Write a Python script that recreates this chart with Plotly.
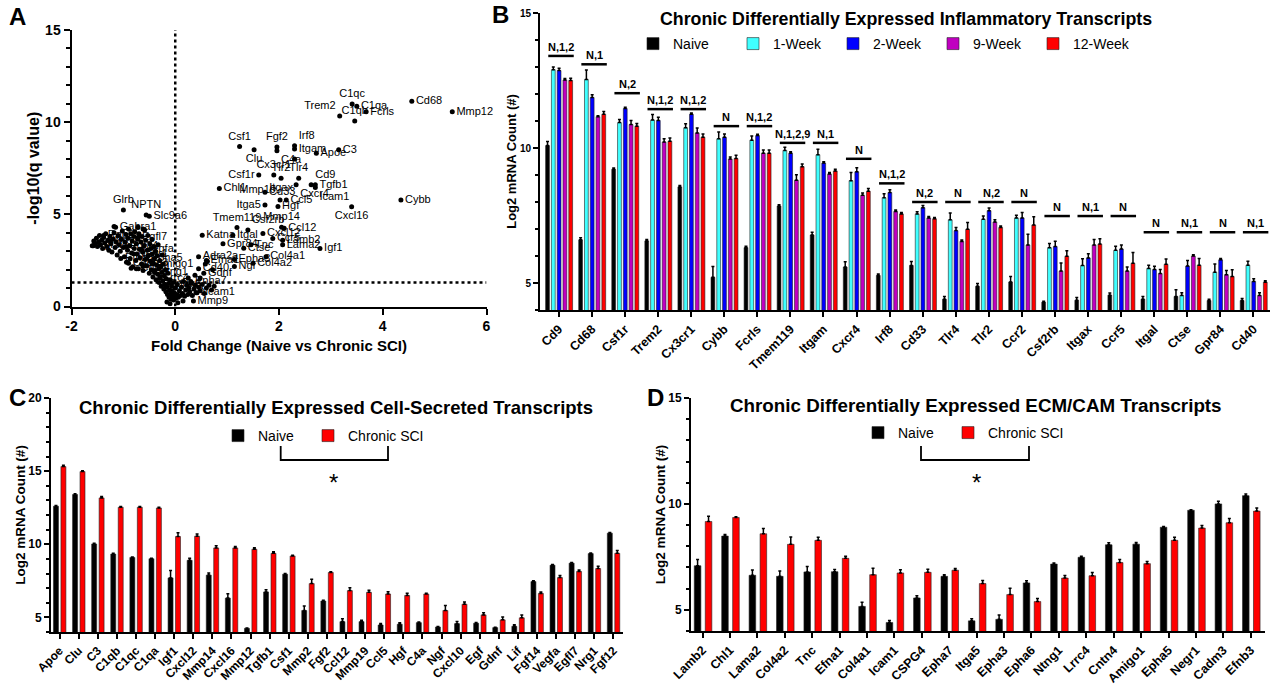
import plotly.graph_objects as go

FONT = "Liberation Sans, Arial, Helvetica, sans-serif"

# ---------------- Panel A : volcano plot ----------------
lab_genes = ["C1qc", "C1qa", "Trem2", "C1qb", "Fcrls", "Cd68", "Mmp12", "Csf1", "Clu", "Fgf2",
             "C4a", "Irf8", "Itgam", "Tlr2", "Apoe", "C3", "Csf1r", "Cx3cr1", "Tlr4", "Cd9",
             "Itgax", "Tgfb1", "Cxcr4", "Icam1", "Chl1", "Cd33", "Mmp19", "Ccl5", "Itga5", "Hgf",
             "Cybb", "Cxcl16", "Glrb", "NPTN", "Slc9a6", "Tmem119", "Csf2rb", "Mmp14", "Ccl12", "Cxcl12",
             "Katna", "Itgal", "Ccr5", "Gpr84", "Tnc", "Ctse", "Lamb2", "Lama2", "Igf1", "Col4a1",
             "Epha3", "Col4a2", "Ngf", "Adra2a", "Efna1", "Cd40", "Gdnf", "Epha7", "Ncam1", "Mmp9",
             "Rab3a", "Gabra1", "Fgf12", "Egfl7", "Nrg1", "Fgf14", "Vegfa", "Negr1", "Cadm3", "Efnb3",
             "Epha5", "Amigo1", "Cntn4", "Ntng1", "Lrrc4", "Epha6"]
lab_x = [3.41, 3.50, 3.17, 3.46, 3.68, 4.56, 5.34, 1.24, 1.52, 1.96,
         1.96, 2.30, 2.30, 2.30, 2.72, 3.15, 1.61, 1.90, 2.38, 2.62,
         2.04, 2.70, 2.33, 2.70, 0.85, 1.73, 2.02, 2.14, 1.73, 1.98,
         4.35, 3.40, -1.00, -0.56, -0.50, 1.19, 1.40, 2.05, 2.10, 1.69,
         0.52, 1.11, 1.88, 0.92, 1.46, 1.32, 2.07, 2.07, 2.79, 1.75,
         1.14, 1.50, 1.14, 0.45, 0.60, 0.45, 0.55, 0.30, 0.40, 0.35,
         -1.38, -1.15, -1.58, -0.72, -1.25, -0.95, -0.65, -0.80, -0.90, -1.05,
         -0.55, -0.45, -0.75, -0.40, -0.30, -0.20]
lab_y = [10.99, 10.87, 10.33, 10.07, 10.56, 11.14, 10.56, 8.68, 8.50, 8.65,
         8.45, 8.72, 8.55, 8.00, 8.32, 8.50, 7.13, 7.13, 6.96, 6.60,
         6.96, 6.60, 6.60, 6.45, 6.40, 6.20, 5.78, 5.78, 5.50, 5.42,
         5.78, 5.41, 5.24, 4.96, 4.90, 4.28, 4.15, 4.30, 4.25, 3.96,
         3.87, 3.87, 3.69, 3.40, 3.35, 3.16, 3.60, 3.35, 3.14, 2.70,
         2.55, 2.35, 2.17, 2.70, 2.50, 2.05, 1.80, 1.35, 0.75, 0.30,
         3.85, 4.30, 3.30, 3.75, 3.55, 3.25, 3.10, 2.85, 2.35, 2.60,
         2.60, 2.30, 2.05, 1.85, 1.55, 1.20]
lab_pos = ["top center", "middle right", "top left", "top center", "middle right", "middle right",
           "middle right", "top center", "bottom center", "top center", "bottom right", "top right",
           "middle right", "bottom left", "middle right", "middle right", "middle left", "top center",
           "top center", "top right", "bottom center", "middle right", "bottom right", "bottom right",
           "middle right", "middle right", "top left", "middle right", "middle left", "middle right",
           "middle right", "bottom center", "top center", "top center", "middle right", "top center",
           "top right", "top center", "middle right", "middle right", "middle right", "middle right",
           "middle right", "middle right", "middle right", "middle right", "middle right", "middle right",
           "middle right", "middle right", "middle right", "middle right", "middle right", "middle right",
           "middle right", "middle right", "middle right", "middle right", "middle right", "middle right",
           "middle right", "middle right", "middle right", "middle right", "middle right", "middle right",
           "middle right", "middle right", "middle right", "middle right", "middle right", "middle right",
           "middle right", "middle right", "middle right", "middle right"]

cluster_x = [-1.60, -1.57, -1.55, -1.52, -1.50, -1.48, -1.46, -1.44, -1.42, -1.40,
             -1.38, -1.36, -1.34, -1.32, -1.30, -1.28, -1.26, -1.24, -1.22, -1.20,
             -1.18, -1.16, -1.14, -1.12, -1.10, -1.08, -1.06, -1.04, -1.02, -1.00,
             -0.98, -0.97, -0.95, -0.94, -0.92, -0.91, -0.90, -0.88, -0.87, -0.86,
             -0.84, -0.83, -0.82, -0.80, -0.79, -0.78, -0.76, -0.75, -0.74, -0.72,
             -0.71, -0.70, -0.69, -0.68, -0.66, -0.65, -0.64, -0.63, -0.62, -0.60,
             -0.59, -0.58, -0.57, -0.55, -0.54, -0.53, -0.52, -0.50, -0.49, -0.48,
             -0.47, -0.46, -0.45, -0.44, -0.43, -0.42, -0.41, -0.40, -0.39, -0.38,
             -0.37, -0.36, -0.35, -0.34, -0.33, -0.32, -0.31, -0.30, -0.29, -0.28,
             -0.27, -0.26, -0.25, -0.24, -0.23, -0.22, -0.21, -0.20, -0.19, -0.18,
             -0.17, -0.16, -0.15, -0.14, -0.13, -0.12, -0.11, -0.10, -0.09, -0.08,
             -0.07, -0.06, -0.05, -0.04, -0.03, -0.02, 0.00, 0.01, 0.03, 0.04,
             0.06, 0.08, 0.10, 0.12, 0.14, 0.16, 0.18, 0.20, 0.22, 0.24,
             0.26, 0.28, 0.30, 0.33, 0.36, 0.39, 0.42, 0.45, 0.48, 0.52,
             0.56, 0.60, 0.65, 0.70, 0.75, -0.16, -0.10, 0.05, 0.15, 0.62,
             0.58, 0.72, 0.48, 0.38, 0.25, -0.72, -0.62, -1.18, -0.85, -0.62]
cluster_y = [3.30, 3.55, 3.40, 3.70, 3.25, 3.50, 3.85, 3.35, 3.60, 3.15,
             3.75, 3.45, 3.95, 3.25, 3.60, 3.05, 3.80, 3.40, 2.95, 3.65,
             4.00, 3.20, 3.50, 2.80, 3.85, 3.35, 3.00, 3.65, 4.10, 3.20,
             2.70, 3.50, 3.90, 2.40, 3.05, 3.70, 4.20, 3.30, 2.60, 3.95,
             2.90, 3.55, 2.15, 3.80, 3.15, 4.05, 2.50, 3.40, 2.85, 3.65,
             2.05, 3.95, 3.10, 2.65, 3.50, 2.30, 3.80, 2.95, 1.95, 3.30,
             4.15, 2.55, 3.60, 2.20, 3.05, 3.85, 2.75, 1.80, 3.40, 2.45,
             3.15, 2.00, 3.65, 2.85, 1.60, 2.35, 3.25, 2.60, 1.95, 3.00,
             1.45, 2.25, 2.75, 1.75, 3.35, 2.05, 1.30, 2.50, 1.60, 2.15,
             1.10, 1.85, 2.80, 1.40, 2.30, 0.95, 1.65, 1.20, 2.00, 0.80,
             1.50, 1.05, 0.65, 1.80, 1.25, 0.50, 0.90, 1.45, 0.70, 0.40,
             1.10, 0.85, 0.55, 1.30, 0.35, 0.75, 1.00, 0.45, 0.65, 1.20,
             0.50, 0.85, 0.60, 1.05, 0.70, 1.35, 0.55, 0.90, 1.15, 0.65,
             1.00, 0.80, 1.25, 0.60, 0.95, 1.15, 0.75, 1.05, 0.85, 1.20,
             0.70, 1.00, 1.15, 0.90, 1.10, 0.25, 0.15, 0.20, 0.30, 2.45,
             2.30, 2.00, 1.55, 1.70, 1.55, 4.30, 4.20, 4.34, 2.08, 2.20]
q_threshold = 1.3

# ---------------- Panel B : inflammatory transcripts ----------------
genes_b = ["Cd9", "Cd68", "Csf1r", "Trem2", "Cx3cr1", "Cybb", "Fcrls", "Tmem119", "Itgam", "Cxcr4",
           "Irf8", "Cd33", "Tlr4", "Tlr2", "Ccr2", "Csf2rb", "Itgax", "Ccr5", "Itgal", "Ctse",
           "Gpr84", "Cd40"]
naive_b = [10.09, 6.60, 9.21, 6.56, 8.56, 5.21, 6.31, 7.85, 6.78, 5.59,
           5.28, 5.65, 4.40, 4.88, 5.04, 4.29, 4.36, 4.55, 4.40, 4.50, 4.35, 4.35]
wk1_b = [12.90, 12.54, 10.94, 11.04, 10.75, 10.34, 10.29, 9.91, 9.75, 8.79,
         8.16, 7.56, 7.34, 7.36, 7.41, 6.31, 5.65, 6.21, 5.54, 4.54, 5.40, 5.66]
wk2_b = [12.87, 11.87, 11.46, 11.02, 11.25, 10.40, 10.46, 9.81, 9.44, 9.12,
         8.35, 7.79, 6.94, 7.68, 7.41, 6.35, 5.93, 6.26, 5.50, 5.63, 5.86, 5.06]
wk9_b = [12.52, 11.16, 10.87, 10.22, 10.56, 9.59, 9.81, 8.81, 9.04, 8.25,
         7.65, 7.41, 6.54, 7.26, 6.41, 5.44, 6.41, 5.44, 5.35, 6.00, 5.31, 4.54]
wk12_b = [12.50, 11.25, 10.81, 10.25, 10.40, 9.61, 9.81, 9.31, 9.15, 8.40,
          7.56, 7.38, 6.99, 7.06, 7.15, 5.99, 6.44, 5.73, 5.69, 5.66, 5.24, 5.03]
err_naive_b = [0.15, 0.08, 0.05, 0.05, 0.05, 0.40, 0.05, 0.05, 0.10, 0.20,
               0.05, 0.15, 0.10, 0.10, 0.20, 0.03, 0.10, 0.08, 0.10, 0.25, 0.05, 0.08]
err_wk1_b = [0.10, 0.35, 0.12, 0.20, 0.15, 0.25, 0.15, 0.12, 0.20, 0.30,
             0.15, 0.08, 0.25, 0.12, 0.10, 0.15, 0.25, 0.15, 0.12, 0.10, 0.30, 0.15]
err_wk2_b = [0.08, 0.10, 0.05, 0.12, 0.05, 0.12, 0.05, 0.05, 0.05, 0.15,
             0.10, 0.08, 0.12, 0.10, 0.20, 0.20, 0.15, 0.15, 0.12, 0.20, 0.05, 0.10]
err_wk9_b = [0.05, 0.03, 0.15, 0.12, 0.18, 0.08, 0.12, 0.20, 0.05, 0.08,
             0.05, 0.05, 0.05, 0.08, 0.40, 0.30, 0.20, 0.15, 0.15, 0.05, 0.15, 0.10]
err_wk12_b = [0.08, 0.10, 0.10, 0.12, 0.12, 0.12, 0.12, 0.10, 0.06, 0.10,
              0.05, 0.05, 0.25, 0.05, 0.30, 0.20, 0.20, 0.40, 0.20, 0.25, 0.25, 0.05]
sig_b = ["N,1,2", "N,1", "N,2", "N,1,2", "N,1,2", "N", "N,1,2", "N,1,2,9", "N,1", "N",
         "N,1,2", "N,2", "N", "N,2", "N", "N", "N,1", "N", "N", "N,1", "N", "N,1"]
sig_y_b = [13.41, 13.10, 12.03, 11.44, 11.44, 10.81, 10.81, 10.19, 10.19, 9.60,
           8.69, 8.00, 8.00, 8.00, 8.00, 7.48, 7.48, 7.48, 6.88, 6.88, 6.88, 6.88]

# ---------------- Panel C : cell-secreted transcripts ----------------
genes_c = ["Apoe", "Clu", "C3", "C1qb", "C1qc", "C1qa", "Igf1", "Cxcl12", "Mmp14", "Cxcl16",
           "Mmp12", "Tgfb1", "Csf1", "Mmp2", "Fgf2", "Ccl12", "Mmp19", "Ccl5", "Hgf", "C4a",
           "Ngf", "Cxcl10", "Egf", "Gdnf", "Lif", "Fgf14", "Vegfa", "Egfl7", "Nrg1", "Fgf12"]
naive_c = [12.60, 13.40, 10.02, 9.33, 9.10, 9.01, 7.70, 8.90, 7.89, 6.32,
           4.25, 6.74, 7.95, 5.47, 6.12, 4.71, 4.71, 4.48, 4.53, 4.64,
           4.34, 4.57, 4.60, 4.30, 4.39, 7.45, 8.57, 8.71, 9.36, 10.76]
sci_c = [15.31, 14.97, 13.17, 12.53, 12.53, 12.48, 10.53, 10.55, 9.75, 9.75,
         9.66, 9.38, 9.20, 7.31, 8.07, 6.83, 6.71, 6.60, 6.50, 6.60,
         5.47, 5.90, 5.17, 4.83, 4.97, 6.64, 7.72, 8.14, 8.34, 9.38]
err_naive_c = [0.05, 0.05, 0.05, 0.05, 0.03, 0.03, 0.50, 0.15, 0.15, 0.30,
               0.03, 0.15, 0.05, 0.30, 0.05, 0.20, 0.10, 0.10, 0.10, 0.05,
               0.03, 0.15, 0.05, 0.03, 0.10, 0.05, 0.05, 0.05, 0.05, 0.05]
err_sci_c = [0.10, 0.05, 0.10, 0.05, 0.05, 0.05, 0.25, 0.15, 0.15, 0.10,
             0.10, 0.10, 0.05, 0.30, 0.05, 0.20, 0.15, 0.15, 0.15, 0.05,
             0.35, 0.15, 0.15, 0.20, 0.20, 0.10, 0.15, 0.10, 0.15, 0.20]

# ---------------- Panel D : ECM / CAM transcripts ----------------
genes_d = ["Lamb2", "Chl1", "Lama2", "Col4a2", "Tnc", "Efna1", "Col4a1", "Icam1", "CSPG4", "Epha7",
           "Itga5", "Epha3", "Epha6", "Ntng1", "Lrrc4", "Cntn4", "Amigo1", "Epha5", "Negr1", "Cadm3",
           "Efnb3"]
naive_d = [7.08, 8.48, 6.63, 6.58, 6.79, 6.80, 5.16, 4.40, 5.56, 6.58,
           4.48, 4.55, 6.27, 7.16, 7.48, 8.07, 8.10, 8.90, 9.70, 10.00, 10.39]
sci_d = [9.17, 9.36, 8.59, 8.09, 8.28, 7.43, 6.66, 6.74, 6.77, 6.87,
         6.24, 5.72, 5.39, 6.50, 6.61, 7.23, 7.18, 8.28, 8.86, 9.11, 9.66]
err_naive_d = [0.30, 0.08, 0.25, 0.25, 0.25, 0.10, 0.20, 0.10, 0.10, 0.08,
               0.10, 0.20, 0.10, 0.05, 0.05, 0.10, 0.08, 0.03, 0.03, 0.12, 0.08]
err_sci_d = [0.25, 0.03, 0.25, 0.35, 0.15, 0.10, 0.30, 0.15, 0.15, 0.08,
             0.15, 0.30, 0.15, 0.12, 0.15, 0.15, 0.10, 0.15, 0.12, 0.20, 0.15]

# ---------------- figure ----------------
W, H = 1273, 685


def px_x(p):
    return p / W


def px_y(p):
    return 1 - p / H


fig = go.Figure()

# Panel A traces
fig.add_trace(go.Scatter(x=cluster_x, y=cluster_y, mode="markers",
                         marker=dict(color="black", size=5), xaxis="x", yaxis="y",
                         showlegend=False, hoverinfo="x+y"))
fig.add_trace(go.Scatter(x=lab_x, y=lab_y, text=lab_genes, mode="markers+text",
                         textposition=lab_pos, cliponaxis=False,
                         textfont=dict(family=FONT, size=11, color="black"),
                         marker=dict(color="black", size=5), xaxis="x", yaxis="y",
                         showlegend=False))


def errbar(arr):
    return dict(type="data", array=arr, arrayminus=[0] * len(arr), symmetric=False,
                color="black", thickness=1.5, width=1.5)


# Panel B traces
series_b = [("Naive", naive_b, err_naive_b, "#000000"),
            ("1-Week", wk1_b, err_wk1_b, "#40FFFF"),
            ("2-Week", wk2_b, err_wk2_b, "#0000FF"),
            ("9-Week", wk9_b, err_wk9_b, "#C000C0"),
            ("12-Week", wk12_b, err_wk12_b, "#FF0000")]
offsets_b = [-0.40, -0.225, -0.05, 0.125, 0.30]
for k, (name, vals, err, col) in enumerate(series_b):
    fig.add_trace(go.Bar(x=genes_b, y=vals, name=name, width=0.115, offset=offsets_b[k],
                         marker=dict(color=col, line=dict(color="#222222", width=0.6)),
                         error_y=errbar(err), xaxis="x2", yaxis="y2", legend="legend"))

# Panel C traces
fig.add_trace(go.Bar(x=genes_c, y=naive_c, name="Naive", width=0.26, offset=-0.32,
                     marker=dict(color="#000000", line=dict(color="#222222", width=0.6)),
                     error_y=errbar(err_naive_c), xaxis="x3", yaxis="y3", legend="legend2"))
fig.add_trace(go.Bar(x=genes_c, y=sci_c, name="Chronic SCI", width=0.26, offset=0.07,
                     marker=dict(color="#FF0000", line=dict(color="#222222", width=0.6)),
                     error_y=errbar(err_sci_c), xaxis="x3", yaxis="y3", legend="legend3"))

# Panel D traces
fig.add_trace(go.Bar(x=genes_d, y=naive_d, name="Naive", width=0.24, offset=-0.30,
                     marker=dict(color="#000000", line=dict(color="#222222", width=0.6)),
                     error_y=errbar(err_naive_d), xaxis="x4", yaxis="y4", legend="legend4"))
fig.add_trace(go.Bar(x=genes_d, y=sci_d, name="Chronic SCI", width=0.24, offset=0.10,
                     marker=dict(color="#FF0000", line=dict(color="#222222", width=0.6)),
                     error_y=errbar(err_sci_d), xaxis="x4", yaxis="y4", legend="legend5"))


def tick_bold(s):
    return dict(family=FONT, size=s, color="black", weight="bold")


def title_font(s):
    return dict(family=FONT, size=s, color="black", weight="bold")


common_ax = dict(showgrid=False, zeroline=False, showline=True, linecolor="black",
                 linewidth=2, ticks="outside", tickcolor="black", tickwidth=2)

shapes = []
annotations = []

# Panel A reference lines
shapes.append(dict(type="line", xref="x", yref="y", x0=0, x1=0, y0=0, y1=15,
                   line=dict(color="black", width=2.5, dash="dot")))
shapes.append(dict(type="line", xref="x", yref="y", x0=-2, x1=6, y0=q_threshold, y1=q_threshold,
                   line=dict(color="black", width=2.5, dash="dot")))

# Panel B significance bars
for i, (s, yv) in enumerate(zip(sig_b, sig_y_b)):
    shapes.append(dict(type="line", xref="x2", yref="y2", x0=i - 0.32, x1=i + 0.45, y0=yv, y1=yv,
                       line=dict(color="black", width=2.5)))
    annotations.append(dict(text=s, x=i + 0.065, y=yv, xref="x2", yref="y2", showarrow=False,
                            xanchor="center", yanchor="bottom", yshift=1,
                            font=dict(family=FONT, size=11, color="black", weight="bold")))

# Panel C / D comparison brackets
for xl, xr, xs in [(280.7, 388, 333), (921, 1029, 976)]:
    shapes.append(dict(type="path", xref="paper", yref="paper",
                       path="M %f,%f L %f,%f L %f,%f L %f,%f" % (
                           px_x(xl), px_y(446), px_x(xl), px_y(460),
                           px_x(xr), px_y(460), px_x(xr), px_y(446)),
                       line=dict(color="black", width=1.8)))
    annotations.append(dict(text="*", x=px_x(xs), y=px_y(482), xref="paper", yref="paper",
                            xanchor="center", yanchor="middle",
                            showarrow=False, font=dict(family=FONT, size=24, color="black")))

# Panel letters and titles
for letter, x, y in [("A", 17, 17), ("B", 500, 14), ("C", 17, 397), ("D", 655, 397)]:
    annotations.append(dict(text=letter, x=px_x(x), y=px_y(y), xref="paper", yref="paper",
                            xanchor="center", yanchor="middle",
                            showarrow=False, font=title_font(24)))
for txt, x, y, s in [("Chronic Differentially Expressed Inflammatory Transcripts", 906, 19, 17.8),
                     ("Chronic Differentially Expressed Cell-Secreted Transcripts", 336, 407, 18.5),
                     ("Chronic Differentially Expressed ECM/CAM Transcripts", 976, 405, 18.8)]:
    annotations.append(dict(text=txt, x=px_x(x), y=px_y(y), xref="paper", yref="paper",
                            xanchor="center", yanchor="middle",
                            showarrow=False, font=title_font(s)))

legend_common = dict(orientation="h", xanchor="left", yanchor="middle",
                     bgcolor="rgba(0,0,0,0)", font=dict(family=FONT, size=14, color="black"),
                     itemclick=False, itemdoubleclick=False)

fig.update_layout(
    width=W, height=H, margin=dict(l=0, r=0, t=0, b=0, autoexpand=False),
    paper_bgcolor="white", plot_bgcolor="white",
    barmode="overlay",
    font=dict(family=FONT, color="black"),
    xaxis=dict(domain=[px_x(71.5), px_x(486.5)], anchor="y", range=[-2, 6],
               tickvals=[-2, 0, 2, 4, 6], ticktext=["-2", "0", "2", "4", "6"], ticklen=6,
               tickfont=tick_bold(14),
               title=dict(text="Fold Change (Naive vs Chronic SCI)", font=title_font(15), standoff=7),
               **common_ax),
    yaxis=dict(domain=[px_y(306.5), px_y(30)], anchor="x", range=[0, 15],
               tickvals=[0, 5, 10, 15], ticklen=6, tickfont=tick_bold(14),
               minor=dict(dtick=1, ticklen=4, tickwidth=1.5, ticks="outside", tickcolor="black"),
               title=dict(text="-log10(q value)", font=title_font(16), standoff=2),
               **common_ax),
    xaxis2=dict(domain=[px_x(540), px_x(1270)], anchor="y2", type="category",
                range=[-0.57, 21.5], tickangle=-45, ticklen=5, tickfont=tick_bold(12.5),
                **common_ax),
    yaxis2=dict(domain=[px_y(310), px_y(13)], anchor="x2", range=[4, 15],
                tickvals=[5, 10, 15], ticklen=5, tickfont=tick_bold(10),
                minor=dict(dtick=1, ticklen=3, tickwidth=1.5, ticks="outside", tickcolor="black"),
                title=dict(text="Log2 mRNA Count (#)", font=title_font(13), standoff=0),
                **common_ax),
    xaxis3=dict(domain=[px_x(51), px_x(623)], anchor="y3", type="category",
                range=[-0.45, 29.5], tickangle=-45, ticklen=5, tickfont=tick_bold(12),
                **common_ax),
    yaxis3=dict(domain=[px_y(632), px_y(398)], anchor="x3", range=[4, 20],
                tickvals=[5, 10, 15, 20], ticklen=5, tickfont=tick_bold(12),
                minor=dict(dtick=1, ticklen=3, tickwidth=1.5, ticks="outside", tickcolor="black"),
                title=dict(text="Log2 mRNA Count (#)", font=title_font(13.5), standoff=0),
                **common_ax),
    xaxis4=dict(domain=[px_x(691), px_x(1265)], anchor="y4", type="category",
                range=[-0.42, 20.52], tickangle=-45, ticklen=5, tickfont=tick_bold(12.5),
                **common_ax),
    yaxis4=dict(domain=[px_y(631), px_y(398)], anchor="x4", range=[4, 15],
                tickvals=[5, 10, 15], ticklen=5, tickfont=tick_bold(12),
                minor=dict(dtick=1, ticklen=3, tickwidth=1.5, ticks="outside", tickcolor="black"),
                title=dict(text="Log2 mRNA Count (#)", font=title_font(13.5), standoff=0),
                **common_ax),
    legend=dict(x=px_x(633), y=px_y(44), entrywidth=55, entrywidthmode="pixels", **legend_common),
    legend2=dict(x=px_x(218), y=px_y(436), **legend_common),
    legend3=dict(x=px_x(308), y=px_y(436), **legend_common),
    legend4=dict(x=px_x(858), y=px_y(433), **legend_common),
    legend5=dict(x=px_x(948), y=px_y(433), **legend_common),
    shapes=shapes,
    annotations=annotations,
)

fig.write_html("out.html", config={"displayModeBar": False},
               post_script="document.body.style.margin='0px';")
